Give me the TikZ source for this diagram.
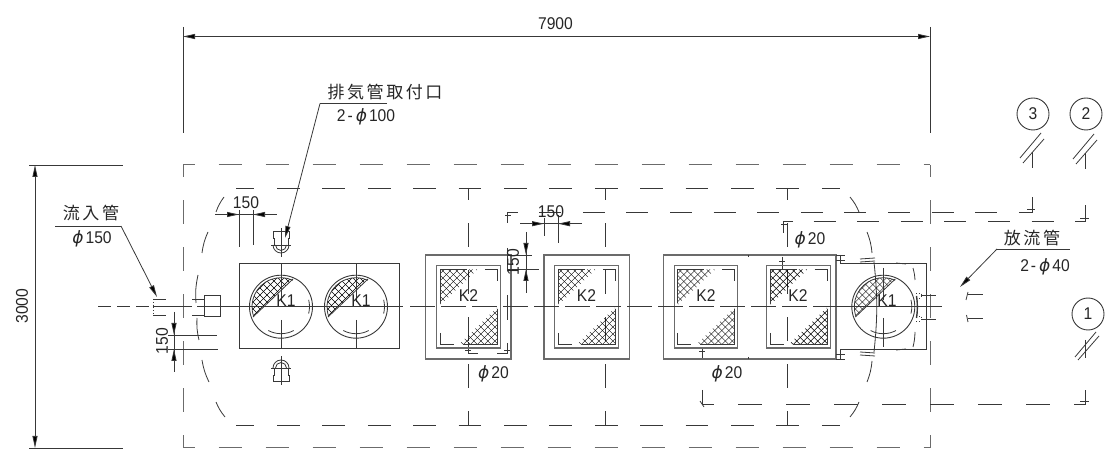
\documentclass[tikz,border=0pt]{standalone}
\usepackage{fontspec}
\usetikzlibrary{arrows.meta}
\setmainfont{Liberation Sans}
\newfontfamily\cjkf[LetterSpace=15]{Noto Sans CJK JP}
\newfontfamily\phifont{DejaVu Sans}
\definecolor{ln}{gray}{0.22}
\definecolor{gl}{gray}{0.42}
\newcommand\dimt[1]{\scalebox{0.92}[1]{\fontsize{17}{18}\selectfont #1}}
\newcommand\ph{{\phifont\itshape\fontsize{17}{18}\selectfont ϕ}}
\newcommand\jp[1]{{\cjkf\fontsize{17}{19}\selectfont #1}}
\tikzset{
  thinl/.style={draw=ln,line width=0.8pt},
  boxl/.style={draw=gl,line width=1.15pt},
  outerdash/.style={draw=gl,line width=1pt,dash pattern=on 23.5pt off 23.5pt,dash phase=11.5pt},
  innerdash/.style={draw=ln,line width=0.9pt,dash pattern=on 22.7pt off 22.7pt},
  vdash/.style={draw=ln,line width=0.9pt,dash pattern=on 23.5pt off 23.5pt,dash phase=11.5pt},
  hpipe/.style={draw=ln,line width=0.9pt,dash pattern=on 22pt off 21.6pt},
  dimtip/.style={-{Triangle[length=12pt,width=5pt,fill=black]}},
  txt/.style={inner sep=0pt,text=black!85},
  hatchl/.style={draw=black,line width=0.42pt},
}
% cross hatch of the current clip around a centre
\newcommand\hatchgrid[2]{%
  \begin{scope}[shift={(#1,#2)}]
  \foreach \d in {-77,-70,...,77}{
    \draw[hatchl] (\d-50,-50)--(\d+50,50);
    \draw[hatchl] (\d+50,-50)--(\d-50,50);
  }
  \end{scope}}
% round chamber
\newcommand\kone[1]{%
  \draw[thinl,line width=0.9pt] (#1,306.7) circle[radius=31.5pt];
  \begin{scope}
    \clip (#1,306.7) circle[radius=29pt];
    \clip (#1-28,317)--(#1+12,279)--(#1+12,270)--(#1-35,270)--(#1-35,317)--cycle;
    \hatchgrid{#1}{295}
  \end{scope}
  \draw[thinl] (#1-28,317)--(#1+12,279);
  \draw[thinl] ([shift={(200:29pt)}]#1,306.7) arc[start angle=200,end angle=66,radius=29pt];
  \draw[thinl] ([shift={(14:28.5pt)}]#1,306.7) arc[start angle=14,end angle=-14,radius=28.5pt];
  \draw[thinl] ([shift={(-118:27pt)}]#1,306.7) arc[start angle=-118,end angle=-62,radius=27pt];
}
% square chamber
\newcommand\ktwo[1]{%
  \draw[boxl] (#1,265.7) rectangle (#1+63.5,348);
  \begin{scope}
    \clip (#1+3.3,269.3)--(#1+41,269.3)--(#1+3.3,305)--cycle;
    \hatchgrid{#1+20}{285}
  \end{scope}
  \begin{scope}
    \clip (#1+60.4,307.5)--(#1+60.4,344.5)--(#1+22,344.5)--cycle;
    \hatchgrid{#1+44}{327}
  \end{scope}
  \draw[thinl] (#1+3.3,303)--(#1+3.3,269.3)--(#1+30,269.3);
  \draw[thinl] (#1+60.4,309)--(#1+60.4,344.5)--(#1+26,344.5);
  \draw[thinl] (#1+48,269.3)--(#1+60.4,269.3)--(#1+60.4,281);
  \draw[thinl] (#1+3.3,333)--(#1+3.3,344.5)--(#1+17,344.5);
}
% vent fitting; #1 centre y, #2 direction to the flange
\newcommand\vent[2]{%
  \draw[thinl] (281-8,#1) arc[start angle=180,end angle=180+#2*180,radius=8pt];
  \draw[thinl] (281-5.5,#1) arc[start angle=180,end angle=180+#2*180,radius=5.5pt];
  \draw[thinl] (271,#1)--(291,#1);
  \draw[thinl] (281,#1-17*#2)--(281,#1+12*#2);
  \draw[thinl] (274,#1)--(274,#1-7*#2)--(273,#1-7*#2)--(273,#1-13.5*#2)--(289,#1-13.5*#2)--(289,#1-7*#2)--(288,#1-7*#2)--(288,#1);
}
\begin{document}
\begin{tikzpicture}[x=1pt,y=-1pt]
\useasboundingbox (0,0) rectangle (1112,462);

% overall dimensions
\draw[thinl] (183,27)--(183,133);
\draw[thinl] (930,27)--(930,133);
\draw[thinl,{Triangle[length=12pt,width=5pt,fill=black]}-{Triangle[length=12pt,width=5pt,fill=black]}] (183,36.5)--(930,36.5);
\node[txt] (d7900) at (555.5,24) {\dimt{7900}};
\draw[thinl] (29,165)--(123,165);
\draw[thinl] (29,448)--(123,448);
\draw[thinl,{Triangle[length=12pt,width=5pt,fill=black]}-{Triangle[length=12pt,width=5pt,fill=black]}] (35,165)--(35,448);
\node[txt,rotate=90] (d3000) at (22,306) {\dimt{3000}};

% outer dashed rectangle
\draw[outerdash] (183,165)--(930,165);
\draw[outerdash] (183,448)--(930,448);
\draw[outerdash] (183,165)--(183,448);
\draw[outerdash] (930,165)--(930,448);

% inner dashed outline
\draw[innerdash,dash phase=4.4pt] (236,188)--(840,188);
\draw[innerdash,dash phase=4.4pt] (236,425)--(840,425);
\foreach \a/\b/\c/\e in {224/197/216/212,208/232/202/253,198/275/196/303,197/318/199/340,202/360/209/382,216/402/225/417}
  \draw[thinl] (\a,\b) to[bend right=8] (\c,\e);
\foreach \a/\b/\c/\e in {850/197/859/212,867/232/872/253,872/361/867/382,859/402/850/417}
  \draw[thinl] (\a,\b) to[bend left=8] (\c,\e);
\draw[thinl] (874,262) to[bend left=6] (874,352);

% vertical dashed lines
\foreach \x in {468,605.7,787} \draw[vdash] (\x,188)--(\x,425);

% pipe routes
\draw[hpipe,dash phase=11.4pt] (507,212)--(1032,212);
\draw[thinl] (1022,212)--(1032,212)--(1032,197);
\draw[thinl] (1027,209)--(1035,209);
\draw[hpipe,dash phase=13pt] (783,221)--(1085,221);
\draw[thinl] (1075,221)--(1085,221)--(1085,205);
\draw[thinl] (1080,218)--(1089,218);
\draw[draw=ln,line width=0.9pt,dash pattern=on 24pt off 24pt,dash phase=12pt] (702,404)--(1085,404);
\draw[thinl] (1074,404)--(1085,404)--(1085,390);
\draw[thinl] (1080,401)--(1089,401);
\draw[thinl] (702,390)--(702,404)--(713,404);
\draw[thinl] (702,348)--(702,360);
\draw[thinl] (699,351)--(705,351);
\draw[thinl] (700,401)--(704,407);
\draw[thinl] (517,212)--(507,212)--(507,223);
\draw[thinl] (505,215)--(511,215);
\draw[thinl] (507,248)--(507,270);
\draw[thinl] (507,295)--(507,320);
\draw[thinl] (507,343)--(507,353)--(497,353);
\draw[thinl] (468,342)--(468,353)--(478,353);
\draw[thinl] (504,350)--(510,350);
\draw[thinl] (465,350)--(471,350);
\draw[thinl] (793,221)--(783,221)--(783,233);
\draw[thinl] (781,224)--(787,224);
\draw[thinl] (782,257)--(782,269);
\draw[thinl] (779,261)--(785,261);

% left chambers
\draw[thinl,line width=1pt] (239,264) rectangle (399,349);
\kone{281}
\kone{356}
\draw[thinl] (281,264)--(281,302);
\draw[thinl] (281,320)--(281,349);
\draw[thinl] (356,264)--(356,302);
\draw[thinl] (356,320)--(356,349);
\node[txt] (k1a) at (286,300.5) {\dimt{K1}};
\node[txt] (k1b) at (361,300.5) {\dimt{K1}};

% vents
\vent{245}{1}
\vent{368}{-1}

% square chambers
\draw[boxl] (425.7,255) rectangle (511,359);
\draw[boxl] (544,255) rectangle (629.3,359);
\draw[boxl] (663.3,255) rectangle (836,359);
\draw[thinl] (748.7,255)--(748.7,257);
\draw[thinl] (748.7,357)--(748.7,359);
\ktwo{436.8}
\ktwo{554.8}
\ktwo{674.3}
\ktwo{766.7}
\node[txt] (k2a) at (468.5,295.5) {\dimt{K2}};
\node[txt] (k2b) at (586.5,295.5) {\dimt{K2}};
\node[txt] (k2c) at (706,295.5) {\dimt{K2}};
\node[txt] (k2d) at (798,295.5) {\dimt{K2}};

% right chamber
\draw[thinl,line width=1pt] (840,255)--(840,264)--(926.5,264)--(926.5,350)--(840,350)--(840,359);
\foreach \y in {255,260,354,359} \draw[thinl] (836,\y)--(845,\y);
\kone{883.3}
\draw[thinl] (883.3,268)--(883.3,300);
\draw[thinl] (883.3,318)--(883.3,347);
\draw[thinl] (860,259)--(875,258);
\draw[thinl] (860,262)--(875,261);
\draw[thinl] (860,352)--(875,353);
\draw[thinl] (860,355)--(875,356);
\draw[thinl] (896,263) -- (906,264);
\draw[thinl] (896,350) -- (906,349);
\draw[thinl] (913,268) to[bend left=6] (915,280);
\draw[thinl] (915,332) to[bend left=6] (913,347);
\draw[line width=1.4pt,draw=ln] (916.5,296) to[bend left=8] (916.5,318);
\node[txt] (k1c) at (887,300.5) {\dimt{K1}};
\draw[thinl,dotted] (916,293)--(921,293)--(921,298)--(916,298);
\draw[thinl,dotted] (916,316)--(921,316)--(921,321)--(916,321);
\draw[thinl] (921,295)--(936,295);
\draw[thinl] (921,319)--(936,319);
\draw[thinl] (968,292)--(966,300);
\draw[thinl] (966.5,315)--(968,322);
\draw[thinl] (968,294)--(983,294);
\draw[thinl] (968,318)--(983,318);

% centre line
\draw[thinl,dash pattern=on 13pt off 6pt] (98,306.7)--(153,306.7);
\draw[thinl] (153,306.7)--(192,306.7);
\draw[thinl] (197,306.7)--(403,306.7);
\draw[thinl,dash pattern=on 25pt off 6pt] (410,306.7)--(840,306.7);
\draw[thinl] (830,306.7)--(942,306.7);

% inlet
\draw[thinl,line width=1pt] (204.3,296) rectangle (220.7,317);
\draw[thinl] (192,299)--(204,299);
\draw[thinl] (192,315)--(204,315);
\draw[thinl] (153,299)--(166,299);
\draw[thinl] (153,315)--(166,315);
\draw[thinl,dotted] (153,299)--(153,315);

% local dimensions
\draw[thinl] (215,214.5)--(277,214.5);
\draw[thinl] (239,210)--(239,247);
\draw[thinl] (253,210)--(253,245);
\draw[thinl,dimtip] (227,214.5)--(239,214.5);
\draw[thinl,dimtip] (265,214.5)--(253,214.5);
\node[txt] (d150a) at (246,203) {\dimt{150}};

\draw[thinl] (174,312)--(174,372);
\draw[thinl] (168,335)--(217,335);
\draw[thinl] (168,349)--(218,349);
\draw[thinl,dimtip] (174,323)--(174,335);
\draw[thinl,dimtip] (174,361)--(174,349);
\node[txt,rotate=90] (d150b) at (162,341) {\dimt{150}};

\draw[thinl] (520,223.7)--(582,223.7);
\draw[thinl] (544,218)--(544,236);
\draw[thinl] (558,215)--(558,243);
\draw[thinl,dimtip] (532,223.7)--(544,223.7);
\draw[thinl,dimtip] (570,223.7)--(558,223.7);
\node[txt] (d150c) at (551,212) {\dimt{150}};

\draw[thinl] (526,232)--(526,293);
\draw[thinl] (507,255)--(532,255);
\draw[thinl] (507,269)--(539,269);
\draw[thinl,dimtip] (526,243)--(526,255);
\draw[thinl,dimtip] (526,281)--(526,269);
\node[txt,rotate=90] (d150d) at (513,262) {\dimt{150}};

% phi 20
\node[txt] (p1) at (493.5,374) {\ph\hspace{2pt}\dimt{20}};
\node[txt] (p2) at (727,374) {\ph\hspace{2pt}\dimt{20}};
\node[txt] (p3) at (810,240) {\ph\hspace{2pt}\dimt{20}};

% leaders
\coordinate (a1) at (157,297);
\coordinate (a2) at (285,238);
\coordinate (a3) at (960,287);
\draw[thinl] (55,226)--(121,226);
\draw[thinl,dimtip] (121,226)--(a1);
\draw[thinl] (387,103.5)--(320,103.5);
\draw[thinl,dimtip] (320,103.5)--(a2);
\draw[thinl] (1070,249)--(997,249);
\draw[thinl,dimtip] (997,249)--(a3);
\node[txt] (t1) at (91,213) {\jp{流入管}};
\node[txt] (t1b) at (92,239) {\ph\hspace{2pt}\dimt{150}};
\node[txt] (t2) at (385,92) {\jp{排気管取付口}};
\node[txt] (t2b) at (366,117) {\dimt{2}\hspace{2pt}\dimt{-}\hspace{3pt}\ph\hspace{2pt}\dimt{100}};
\node[txt] (t3) at (1032,238) {\jp{放流管}};
\node[txt] (t3b) at (1045,267) {\dimt{2}\hspace{2pt}\dimt{-}\hspace{3pt}\ph\hspace{2pt}\dimt{40}};

% circled numbers and slashes
\node[draw=ln,line width=0.9pt,circle,minimum size=32pt,inner sep=0pt,text=black!85] (c3) at (1033,114) {\dimt{3}};
\node[draw=ln,line width=0.9pt,circle,minimum size=32pt,inner sep=0pt,text=black!85] (c2) at (1086,114) {\dimt{2}};
\node[draw=ln,line width=0.9pt,circle,minimum size=32pt,inner sep=0pt,text=black!85] (c1) at (1088,314) {\dimt{1}};
\foreach \x/\y in {1032/152,1085/153}{
  \draw[thinl] (\x,\y)--(\x,\y+16);
  \draw[thinl] (\x-12,\y+6)--(\x+9,\y-19);
  \draw[thinl] (\x-9,\y+11)--(\x+12,\y-13);
}
\draw[thinl] (1085,340)--(1085,358);
\draw[thinl] (1075,357)--(1096,332);
\draw[thinl] (1078,360)--(1099,336);
\end{tikzpicture}
\end{document}
